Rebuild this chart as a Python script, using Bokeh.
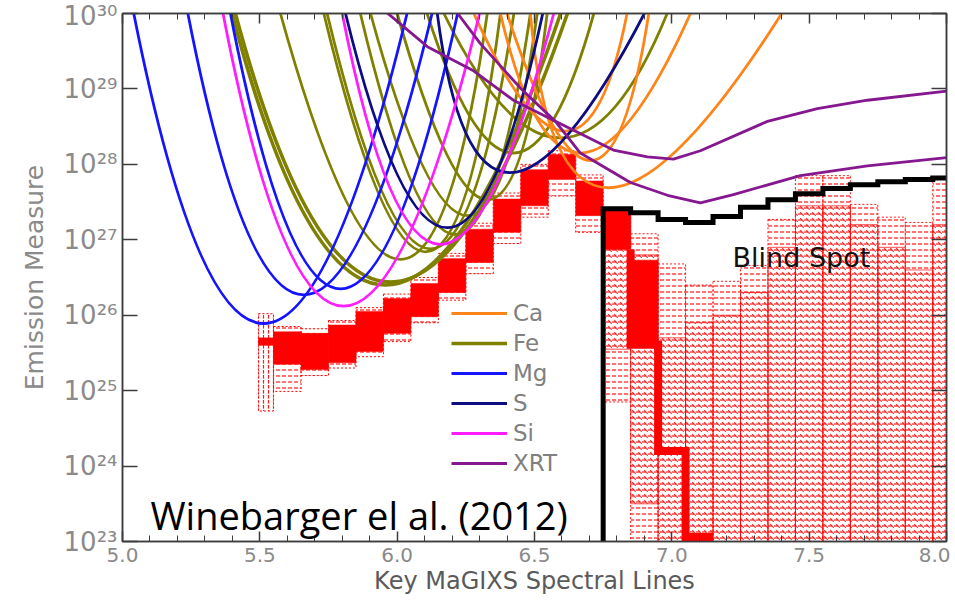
import numpy as np
from bokeh.plotting import figure
from bokeh.models import (Range1d, FixedTicker, LinearAxis, LogAxis, CustomJSTickFormatter,
                          PrintfTickFormatter, Legend, LegendItem, Label, ColumnDataSource)
from bokeh.embed import file_html
from bokeh.resources import INLINE

# ---------------- ticks ----------------
x_ticks = [5.0, 5.5, 6.0, 6.5, 7.0, 7.5, 8.0]
y_exps = [23, 24, 25, 26, 27, 28, 29, 30]
y_labels = ["10²³", "10²⁴", "10²⁵", "10²⁶", "10²⁷", "10²⁸", "10²⁹", "10³⁰"]

# ---------------- EM-loci curves ----------------
# logT where a curve leaves the top of the plot (EM = 1e30), logT and log EM of its
# minimum, and logT where it reaches the top again
ca_t_in = [6.279, 6.376, 6.400, 6.485]
ca_t_min = [6.613, 6.667, 6.704, 6.769]
ca_em_min = [28.44, 28.15, 28.05, 27.69]
ca_t_out = [6.837, 7.068, 6.916, 7.400]

fe_t_in = [5.399, 5.411, 5.575, 5.733, 5.745, 5.866, 5.903, 6.000, 6.109, 6.170]
fe_t_min = [5.957, 5.976, 6.012, 6.103, 6.121, 6.212, 6.256, 6.329, 6.423, 6.595]
fe_em_min = [26.40, 26.44, 26.74, 26.84, 26.88, 27.07, 27.32, 27.53, 28.15, 28.35]
fe_t_out = [6.595, 6.620, 6.328, 6.376, 6.425, 6.485, 6.510, 6.546, 6.716, 6.983]

mg_t_in = [5.041, 5.238, 5.393]
mg_t_min = [5.514, 5.660, 5.794]
mg_em_min = [25.89, 26.27, 26.35]
mg_t_out = [6.036, 6.127, 6.220]

s_t_in = [5.812, 6.146]
s_t_min = [6.182, 6.410]
s_em_min = [27.16, 27.89]
s_t_out = [6.530, 6.900]

si_t_in = [5.366, 5.800]
si_t_min = [5.805, 6.157]
si_em_min = [26.12, 26.94]
si_t_out = [6.300, 6.570]

xrt1_t = [5.95, 6.110, 6.278, 6.423, 6.576, 6.787, 6.911, 7.006, 7.104, 7.348, 7.530, 7.712, 8.0]
xrt1_em = [30.05, 29.56, 29.24, 28.85, 28.57, 28.19, 28.10, 28.07, 28.18, 28.57, 28.74, 28.85, 28.97]
xrt2_t = [6.21, 6.303, 6.449, 6.576, 6.667, 6.849, 6.984, 7.104, 7.224, 7.468, 7.712, 8.0]
xrt2_em = [30.05, 29.60, 29.01, 28.57, 28.15, 27.76, 27.59, 27.49, 27.60, 27.85, 27.98, 28.09]

# ---------------- DEM solutions (log EM per temperature bin) ----------------
lo_left = [5.495, 5.55, 5.65, 5.75, 5.85, 5.95, 6.05, 6.15, 6.25, 6.35, 6.45, 6.55, 6.65]
lo_right = [5.55, 5.65, 5.75, 5.85, 5.95, 6.05, 6.15, 6.25, 6.35, 6.45, 6.55, 6.65, 6.75]
lo_core_bot = [25.60, 25.35, 25.28, 25.37, 25.52, 25.76, 25.98, 26.30, 26.70, 27.10, 27.45, 27.80, 27.32]
lo_core_top = [25.70, 25.78, 25.76, 25.87, 26.05, 26.22, 26.42, 26.75, 27.14, 27.54, 27.93, 28.13, 27.78]
lo_env_bot = [24.73, 24.99, 25.20, 25.30, 25.45, 25.65, 25.90, 26.20, 26.55, 26.95, 27.30, 27.58, 27.10]
lo_env_top = [26.02, 25.85, 25.82, 25.93, 26.10, 26.28, 26.50, 26.82, 27.22, 27.62, 28.00, 28.18, 27.86]

hi_left = [6.75, 6.85, 6.95, 7.05, 7.15, 7.25, 7.35, 7.45, 7.55, 7.65, 7.75, 7.85, 7.95]
hi_right = [6.85, 6.95, 7.05, 7.15, 7.25, 7.35, 7.45, 7.55, 7.65, 7.75, 7.85, 7.95, 8.00]
hi_spread_top = [27.41, 27.08, 26.68, 26.40, 26.45, 26.66, 27.27, 27.85, 27.85, 27.47, 27.30, 27.23, 27.82]
hi_spread_bot = [24.85, 22.0, 22.0, 22.0, 22.0, 22.0, 22.0, 22.0, 22.0, 22.0, 22.0, 22.0, 22.0]
hi_dense_top = [27.41, 26.80, 25.70, 25.90, 26.00, 26.30, 26.90, 27.45, 27.45, 27.20, 26.90, 26.60, 27.20]
hi_dense_bot = [25.55, 23.50, 22.0, 22.0, 22.0, 22.0, 22.0, 22.0, 22.0, 22.0, 22.0, 22.0, 22.0]
hi_core_left = [6.75, 6.85]
hi_core_right = [6.85, 6.95]
hi_core_bot = [26.87, 25.61]
hi_core_top = [27.41, 26.73]
median_edges = [6.85, 6.95, 7.05, 7.15]
median_start = 26.87
median_levels = [25.61, 24.20, 23.06]

# ---------------- blind-spot boundary ----------------
blind_edges = [6.75, 6.85, 6.95, 7.05, 7.15, 7.25, 7.35, 7.45, 7.55, 7.65, 7.75, 7.85, 7.95, 8.00]
blind_levels = [27.41, 27.36, 27.27, 27.23, 27.31, 27.43, 27.53, 27.61, 27.68, 27.73, 27.77, 27.80, 27.82]
blind_floor = 22.0

# ---------------- colours / styles ----------------
C_CA, C_FE, C_MG, C_S, C_SI, C_XRT = "#ff8418", "#808000", "#1414ff", "#0c0c84", "#ff1cff", "#86188f"
RED = "#ff0000"
AX = "#3c3c3c"
GREY = "#8a8a8a"
FONT = "DejaVu Sans"

p = figure(width=950, height=604, x_range=Range1d(5.0, 8.0), y_range=Range1d(1e23, 1e30),
           y_axis_type="log", output_backend="svg", toolbar_location=None,
           min_border_left=122, min_border_right=4, min_border_top=13, min_border_bottom=63,
           background_fill_color="white", border_fill_color="white")
p.xgrid.visible = False
p.ygrid.visible = False
p.outline_line_color = AX
p.outline_line_width = 1.5

minor_x = [round(5.0 + 0.1 * i, 1) for i in range(31) if i % 5 != 0]

xa = p.xaxis[0]
xa.ticker = FixedTicker(ticks=x_ticks, minor_ticks=minor_x)
xa.formatter = PrintfTickFormatter(format="%.1f")
ya = p.yaxis[0]
ya.ticker = FixedTicker(ticks=[10.0 ** e for e in y_exps], minor_ticks=[])
ya.formatter = CustomJSTickFormatter(args=dict(exps=y_exps, labels=y_labels), code="""
    const e = Math.round(Math.log10(tick));
    const i = exps.indexOf(e);
    return i >= 0 ? labels[i] : "";
""")

for ax in (xa, ya):
    ax.axis_line_color = AX
    ax.axis_line_width = 1.5
    ax.major_tick_line_color = AX
    ax.minor_tick_line_color = AX
    ax.major_tick_line_width = 1.5
    ax.major_tick_out = 0
    ax.minor_tick_out = 0
    ax.major_label_text_font = FONT
    ax.major_label_text_color = GREY
    ax.axis_label_text_font = FONT
    ax.axis_label_text_font_style = "normal"

xa.major_tick_in = 10
xa.minor_tick_in = 6
xa.major_label_text_font_size = "20px"
xa.major_label_standoff = 6
xa.axis_label = "Key MaGIXS Spectral Lines"
xa.axis_label_text_font_size = "24px"
xa.axis_label_text_color = "#5a5a5a"
xa.axis_label_standoff = 2

ya.major_tick_in = 15
ya.major_label_text_font_size = "26px"
ya.major_label_standoff = 5
ya.axis_label = "Emission Measure"
ya.axis_label_text_font_size = "25px"
ya.axis_label_text_color = GREY
ya.axis_label_standoff = 12

top_ax = LinearAxis(ticker=FixedTicker(ticks=x_ticks, minor_ticks=minor_x),
                    major_tick_in=10, major_tick_out=0, minor_tick_in=6, minor_tick_out=0,
                    major_label_text_font_size="0px", major_label_text_alpha=0, major_label_standoff=0,
                    axis_line_color=AX, axis_line_width=1.5, major_tick_line_color=AX,
                    minor_tick_line_color=AX, major_tick_line_width=1.5)
p.add_layout(top_ax, "above")
right_ax = LogAxis(ticker=FixedTicker(ticks=[10.0 ** e for e in y_exps], minor_ticks=[]),
                   major_tick_in=15, major_tick_out=0, minor_tick_in=0, minor_tick_out=0,
                   major_label_text_font_size="0px", major_label_text_alpha=0, major_label_standoff=0,
                   axis_line_color=AX, axis_line_width=1.5, major_tick_line_color=AX,
                   major_tick_line_width=1.5)
p.add_layout(right_ax, "right")


def ex(a):
    return 10.0 ** np.asarray(a, dtype=float)


# ---------------- red DEM cloud ----------------
p.quad(left=lo_left[:1], right=lo_right[:1], bottom=ex(lo_env_bot[:1]), top=ex(lo_env_top[:1]),
       fill_alpha=0, hatch_pattern="vertical_dash", hatch_color=RED, hatch_scale=5,
       hatch_weight=1.2, hatch_alpha=0.9, line_color=RED, line_dash="2 2", line_width=1)
p.quad(left=lo_left[1:], right=lo_right[1:], bottom=ex(lo_env_bot[1:]), top=ex(lo_env_top[1:]),
       fill_alpha=0, hatch_pattern="horizontal_dash", hatch_color=RED, hatch_scale=6,
       hatch_weight=1.2, hatch_alpha=0.9, line_color=RED, line_dash="2 2", line_width=1)

p.quad(left=hi_left, right=hi_right, bottom=ex(hi_spread_bot), top=ex(hi_spread_top),
       fill_alpha=0, hatch_pattern="horizontal_dash", hatch_color=RED, hatch_scale=6,
       hatch_weight=1.3, hatch_alpha=0.85, line_color=RED, line_dash="2 2", line_width=1, line_alpha=0.9)
p.quad(left=hi_left, right=hi_right, bottom=ex(hi_dense_bot), top=ex(hi_dense_top),
       fill_alpha=0, hatch_pattern="left_diagonal_dash", hatch_color=RED, hatch_scale=6,
       hatch_weight=1.2, hatch_alpha=0.75, line_color=RED, line_width=1, line_alpha=0.7)

p.quad(left=lo_left, right=lo_right, bottom=ex(lo_core_bot), top=ex(lo_core_top),
       fill_color=RED, line_color=RED, line_width=0.5)
p.quad(left=hi_core_left, right=hi_core_right, bottom=ex(hi_core_bot), top=ex(hi_core_top),
       fill_color=RED, line_color=RED, line_width=0.5)

mx, my = [median_edges[0]], [median_start]
for i, lv in enumerate(median_levels):
    mx += [median_edges[i], median_edges[i + 1]]
    my += [lv, lv]
p.line(mx, ex(my), line_color=RED, line_width=8, line_join="miter")


# ---------------- EM-loci curves ----------------
def loci(t_in, t_min, em_min, t_out, color, width=2.8):
    t_in = np.asarray(t_in, float)
    t_min = np.asarray(t_min, float)
    em_min = np.asarray(em_min, float)
    t_out = np.asarray(t_out, float)
    top = np.full(len(t_in), 30.0)
    src = ColumnDataSource(dict(
        x0=t_in, y0=ex(top), x1=t_out, y1=ex(top),
        cx=2 * t_min - 0.5 * (t_in + t_out), cy=ex(2 * em_min - top)))
    return p.quadratic(x0="x0", y0="y0", x1="x1", y1="y1", cx="cx", cy="cy", source=src,
                       line_color=color, line_width=width)


r_fe = loci(fe_t_in[:2], fe_t_min[:2], fe_em_min[:2], fe_t_out[:2], C_FE, 3.6)
loci(fe_t_in[2:], fe_t_min[2:], fe_em_min[2:], fe_t_out[2:], C_FE, 2.8)
r_ca = loci(ca_t_in, ca_t_min, ca_em_min, ca_t_out, C_CA)
r_mg = loci(mg_t_in, mg_t_min, mg_em_min, mg_t_out, C_MG)
r_s = loci(s_t_in, s_t_min, s_em_min, s_t_out, C_S)
r_si = loci(si_t_in, si_t_min, si_em_min, si_t_out, C_SI)
r_xrt = p.line(xrt1_t, ex(xrt1_em), line_color=C_XRT, line_width=2.8)
p.line(xrt2_t, ex(xrt2_em), line_color=C_XRT, line_width=2.8)

# ---------------- blind spot boundary ----------------
bx, by = [blind_edges[0]], [blind_floor]
for i, lv in enumerate(blind_levels):
    bx += [blind_edges[i], blind_edges[i + 1]]
    by += [lv, lv]
p.line(bx, ex(by), line_color="black", line_width=5, line_join="miter")

# ---------------- legend ----------------
leg_names = ["Ca", "Fe", "Mg", "S", "Si", "XRT"]
leg_rends = [r_ca, r_fe, r_mg, r_s, r_si, r_xrt]
items = [LegendItem(label=n, renderers=[r], index=0) for n, r in zip(leg_names, leg_rends)]
legend = Legend(items=items, location=(329, 65), glyph_width=56, glyph_height=20,
                label_height=20, spacing=4, padding=0, margin=0, label_standoff=6,
                label_text_font=FONT, label_text_font_size="23px", label_text_color="#808080",
                background_fill_alpha=0, border_line_alpha=0)
p.add_layout(legend)

p.add_layout(Label(x=5.102, y=10 ** 23.35, text="Winebarger el al. (2012)", text_font="Open Sans",
                   text_font_size="38px", text_color="black", text_baseline="alphabetic"))
p.add_layout(Label(x=7.221, y=10 ** 26.77, text="Blind Spot", text_font=FONT,
                   text_font_size="27px", text_color="#111111", text_baseline="alphabetic"))

open("out.html", "w").write(file_html(p, INLINE))
